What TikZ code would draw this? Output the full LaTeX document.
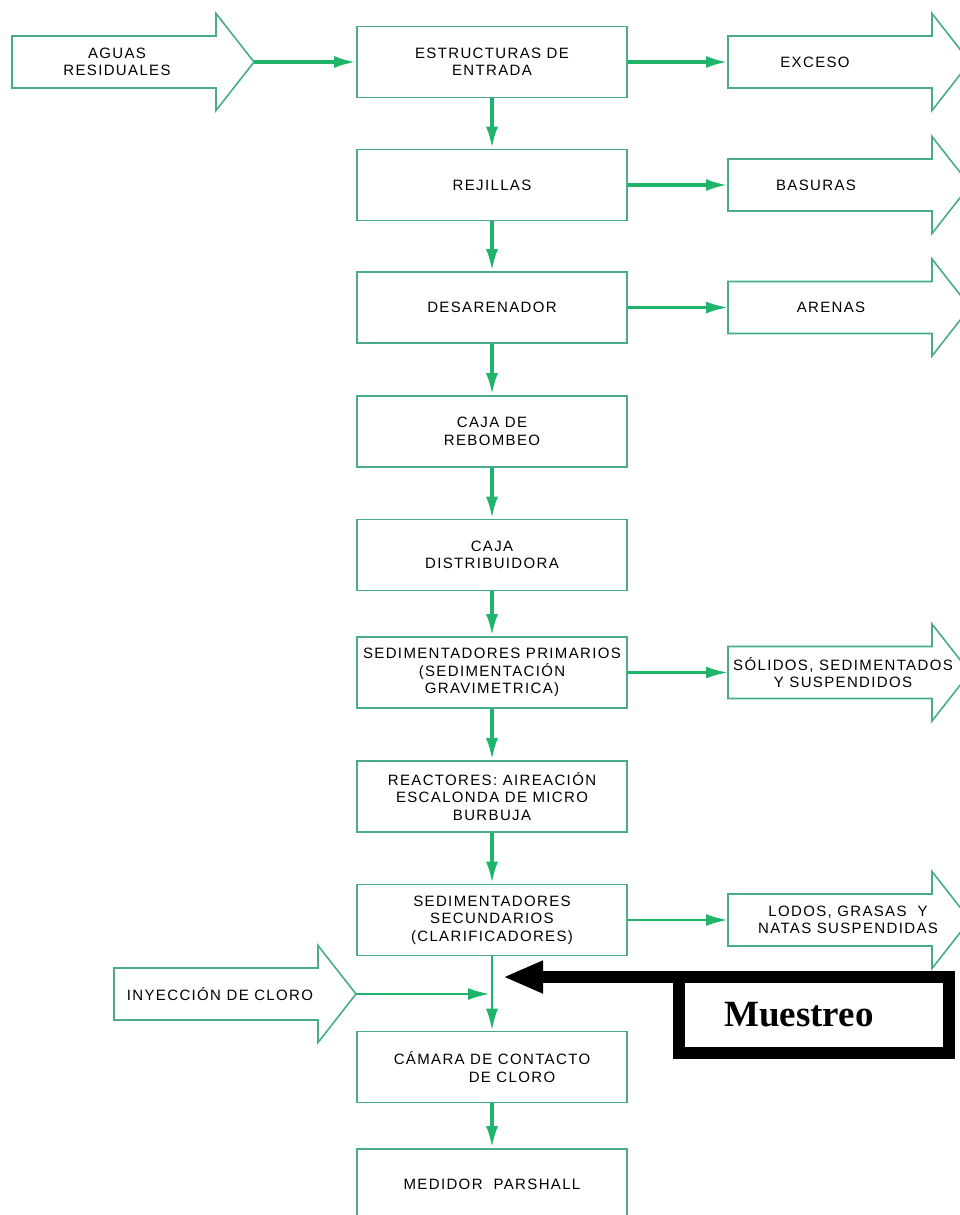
\documentclass[tikz,border=0pt]{standalone}
\usepackage{fontspec}
\setmainfont{Liberation Sans}[LetterSpace=9]
\newfontfamily\serifb{Liberation Serif}
\usetikzlibrary{arrows.meta}
\definecolor{boxc}{RGB}{72,172,140}
\definecolor{flowc}{RGB}{30,180,105}
\newcommand\bigarr[5]{%
  \draw[bigarrow] (#2,#3-26) -- ++(204,0) -- ++(0,-22.5) -- (#2+242,#3) -- (#2+204,#3+48.5) -- ++(0,-22.5) -- (#2,#3+26) -- cycle;
  \coordinate (#1-in) at (#2,#3);
  \coordinate (#1-tip) at (#2+242,#3);
  \node[lbl] (#1) at (#4,#3) {#5};}
\begin{document}
\begin{tikzpicture}[x=1pt,y=-1pt,
  stage/.style={draw=boxc, line width=1.6pt, minimum width=270pt, minimum height=71pt, inner sep=1pt, align=center, font=\fontsize{15}{17.5}\selectfont},
  lbl/.style={align=center, font=\fontsize{15}{16.5}\selectfont, inner sep=0pt},
  flow/.style={draw=flowc, line width=3.6pt, -{Latex[length=22pt,width=12pt]}},
  flowthin/.style={flow, line width=2.8pt},
  bigarrow/.style={draw=boxc, line width=1.6pt, line join=miter}]
\clip (0,0) rectangle (960,1215);
\fill[white] (0,0) rectangle (960,1215);

\node[stage] (estr) at (492,62) {ESTRUCTURAS DE\\ENTRADA};
\node[stage] (rej) at (492,185) {REJILLAS};
\node[stage] (des) at (492,307.5) {DESARENADOR};
\node[stage] (reb) at (492,431.5) {CAJA DE\\REBOMBEO};
\node[stage] (dist) at (492,555) {CAJA\\DISTRIBUIDORA};
\node[stage] (sedp) at (492,672.5) {SEDIMENTADORES PRIMARIOS\\(SEDIMENTACIÓN\\GRAVIMETRICA)};
\node[stage] (reac) at (492,796.5) {REACTORES: AIREACIÓN\\ESCALONDA DE MICRO\\BURBUJA};
\node[stage] (seds) at (492,920) {SEDIMENTADORES\\SECUNDARIOS\\(CLARIFICADORES)};
\node[stage] (cam) at (492,1067) {CÁMARA DE CONTACTO\\\hspace*{40pt}DE CLORO};
\node[stage] (med) at (492,1184.5) {MEDIDOR\ \ PARSHALL};

\bigarr{agua}{12}{62}{117}{AGUAS\\RESIDUALES}
\bigarr{exc}{728}{62}{815}{EXCESO}
\bigarr{bas}{728}{185}{816}{BASURAS}
\bigarr{are}{728}{307.5}{831}{ARENAS}
\bigarr{sol}{728}{672.5}{843}{SÓLIDOS, SEDIMENTADOS\\Y SUSPENDIDOS}
\bigarr{lod}{728}{920}{848}{LODOS, GRASAS\ \ Y\\NATAS SUSPENDIDAS}
\bigarr{iny}{114}{994}{220}{INYECCIÓN DE CLORO}

\draw[flow] (agua-tip) -- (estr.west);
\draw[flow] (estr.east) -- (exc-in);
\draw[flow] (rej.east) -- (bas-in);
\draw[flowthin] (des.east) -- (are-in);
\draw[flowthin] (sedp.east) -- (sol-in);
\draw[flowthin] (seds.east) -- (lod-in);

\draw[flow] (estr.south) -- (rej.north);
\draw[flow] (rej.south) -- (des.north);
\draw[flow] (des.south) -- (reb.north);
\draw[flow] (reb.south) -- (dist.north);
\draw[flow] (dist.south) -- (sedp.north);
\draw[flow] (sedp.south) -- (reac.north);
\draw[flow] (reac.south) -- (seds.north);
\draw[flowthin] (seds.south) -- (cam.north);
\draw[flow] (cam.south) -- (med.north);

\coordinate (inj) at (490,994);
\draw[flowthin] (iny-tip) -- (inj);

\node[draw=black, line width=12pt, outer sep=0pt, minimum width=270pt, minimum height=76pt, inner sep=0pt,
  font=\serifb\bfseries\fontsize{37}{37}\selectfont] (mue) at (814,1015) {Muestreo\hspace*{30pt}};
\coordinate (mtip) at (503,977);
\draw[line width=12pt, -{Triangle[length=40pt,width=30pt]}] (mue.north west) -- (mtip);
\end{tikzpicture}
\end{document}
